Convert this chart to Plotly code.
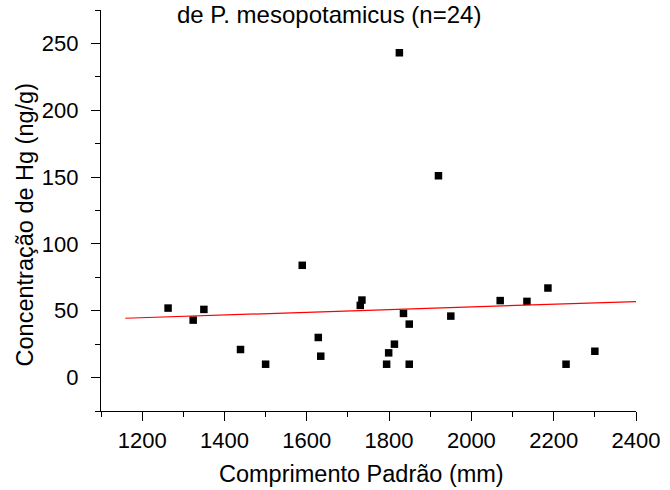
import plotly.graph_objects as go

# Data
comprimento = [1263, 1324, 1350, 1439, 1500, 1589, 1628, 1634, 1730, 1734,
               1794, 1799, 1813, 1825, 1835, 1849, 1849, 1920, 1950, 2070,
               2135, 2186, 2230, 2300]
concentracao = [52, 43, 51, 21, 10, 84, 30, 16, 54, 58,
                10, 18.5, 25, 243, 48, 40, 10, 151, 46, 57.6,
                57, 67, 10, 19.7]
fit_x = [1159, 2400]
fit_y = [44.4, 56.9]

x_ticks = [1200, 1400, 1600, 1800, 2000, 2200, 2400]
y_ticks = [0, 50, 100, 150, 200, 250]

title_text = "de P. mesopotamicus (n=24)"
x_title = "Comprimento Padrão (mm)"
y_title = "Concentração de Hg (ng/g)"

FONT = "Liberation Sans, Arial, sans-serif"

fig = go.Figure()
fig.add_trace(go.Scatter(x=comprimento, y=concentracao, mode="markers",
                         marker=dict(symbol="square", size=7.5, color="black",
                                     line=dict(width=0)),
                         showlegend=False, cliponaxis=False))
fig.add_trace(go.Scatter(x=fit_x, y=fit_y, mode="lines",
                         line=dict(color="red", width=1.2),
                         showlegend=False))

axis_common = dict(showline=True, linecolor="black", linewidth=1.3,
                   ticks="outside", ticklen=9, tickwidth=1.3, tickcolor="black",
                   showgrid=False, zeroline=False, mirror=False,
                   tickfont=dict(family=FONT, size=22, color="black"))

fig.update_xaxes(range=[1100, 2400], tickvals=x_ticks,
                 minor=dict(dtick=100, tick0=1100, ticks="outside", ticklen=5,
                            tickwidth=1.3, tickcolor="black", showgrid=False),
                 **axis_common)
fig.update_yaxes(range=[-25, 275], tickvals=y_ticks, ticklabelstandoff=8,
                 minor=dict(dtick=25, tick0=0, ticks="outside", ticklen=5,
                            tickwidth=1.3, tickcolor="black", showgrid=False),
                 **axis_common)

fig.update_layout(
    width=670, height=490,
    margin=dict(l=101, r=31, t=10, b=79),
    paper_bgcolor="white", plot_bgcolor="white",
    font=dict(family=FONT, size=22, color="black"),
    annotations=[
        dict(text=title_text, xref="paper", yref="paper", x=0.427, y=0.988,
             xanchor="center", yanchor="middle", showarrow=False,
             font=dict(family=FONT, size=24, color="black")),
        dict(text=x_title, xref="paper", yref="paper", x=0.486, y=-0.157,
             xanchor="center", yanchor="middle", showarrow=False,
             font=dict(family=FONT, size=23.5, color="black")),
        dict(text=y_title, xref="paper", yref="paper", x=-0.1422, y=0.465,
             xanchor="center", yanchor="middle", showarrow=False, textangle=-90,
             font=dict(family=FONT, size=23.5, color="black")),
    ],
)

fig.write_html("out.html")
